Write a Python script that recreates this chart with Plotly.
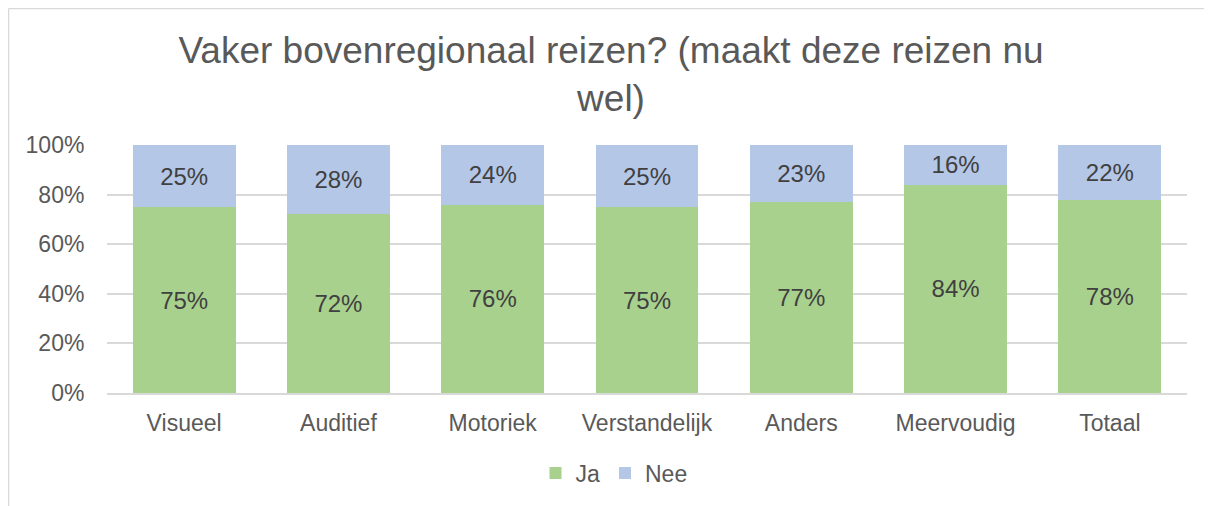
import plotly.graph_objects as go

categories = ["Visueel", "Auditief", "Motoriek", "Verstandelijk", "Anders", "Meervoudig", "Totaal"]
ja_values = [75, 72, 76, 75, 77, 84, 78]
nee_values = [25, 28, 24, 25, 23, 16, 22]
y_ticks = [0, 20, 40, 60, 80, 100]
y_tick_labels = ["0%", "20%", "40%", "60%", "80%", "100%"]

title_text = "Vaker bovenregionaal reizen? (maakt deze reizen nu<br>wel)"

W, H = 1212, 506
ml, mr, mt, mb = 99, 33, 137, 121

fig = go.Figure()
fig.add_trace(go.Bar(
    x=categories, y=ja_values, name="Ja",
    marker=dict(color="#A9D18E", line=dict(width=0)),
    text=[f"{v}%" for v in ja_values], textposition="inside",
    insidetextanchor="middle", textangle=0,
    textfont=dict(size=24, color="#404040", family="Liberation Sans, Arial"),
))
fig.add_trace(go.Bar(
    x=categories, y=nee_values, name="Nee",
    marker=dict(color="#B4C7E7", line=dict(width=0)),
    text=[f"{v}%" for v in nee_values], textposition="inside",
    insidetextanchor="middle", textangle=0,
    textfont=dict(size=24, color="#404040", family="Liberation Sans, Arial"),
))

pw = W - ml - mr
ph = H - mt - mb
fig.update_layout(
    width=W, height=H,
    barmode="stack", bargap=0.333,
    paper_bgcolor="white", plot_bgcolor="white",
    margin=dict(l=ml, r=mr, t=mt, b=mb),
    font=dict(family="Liberation Sans, Arial", color="#595959", size=23),
    title=dict(text=title_text, x=603 / W, xref="container", xanchor="center",
               y=1 - 55 / H, yref="container", yanchor="top",
               font=dict(size=37, color="#595959")),
    legend=dict(orientation="h", x=0.5, xanchor="center", xref="container",
                y=(H - 465) / H, yref="container", yanchor="middle",
                font=dict(size=23, color="#595959"), traceorder="normal",
                itemwidth=30, itemsizing="constant"),
    uniformtext=dict(minsize=24, mode="show"),
    shapes=[
        dict(type="line", xref="paper", yref="paper",
             x0=(0.5 - ml) / pw, x1=(1230 - ml) / pw,
             y0=(H - mb - 0.5) / ph, y1=(H - mb - 0.5) / ph,
             line=dict(color="#D9D9D9", width=1.5)),
        dict(type="line", xref="paper", yref="paper",
             x0=(0.5 - ml) / pw, x1=(0.5 - ml) / pw,
             y0=(H - mb - 0.5) / ph, y1=-(mb + 20) / ph,
             line=dict(color="#D9D9D9", width=1.5)),
    ],
)
fig.update_xaxes(
    showgrid=False, showline=True, linecolor="#D9D9D9", linewidth=1.5,
    ticks="outside", ticklen=9, tickcolor="rgba(0,0,0,0)",
    tickfont=dict(size=23, color="#595959"),
)
fig.update_yaxes(
    range=[0, 100], tickvals=y_ticks, ticktext=y_tick_labels,
    showgrid=True, gridcolor="#D9D9D9", gridwidth=1.5, zeroline=False,
    showline=False, ticks="outside", ticklen=17, tickcolor="rgba(0,0,0,0)",
    tickfont=dict(size=23, color="#595959"),
)

fig.write_html("out.html")
